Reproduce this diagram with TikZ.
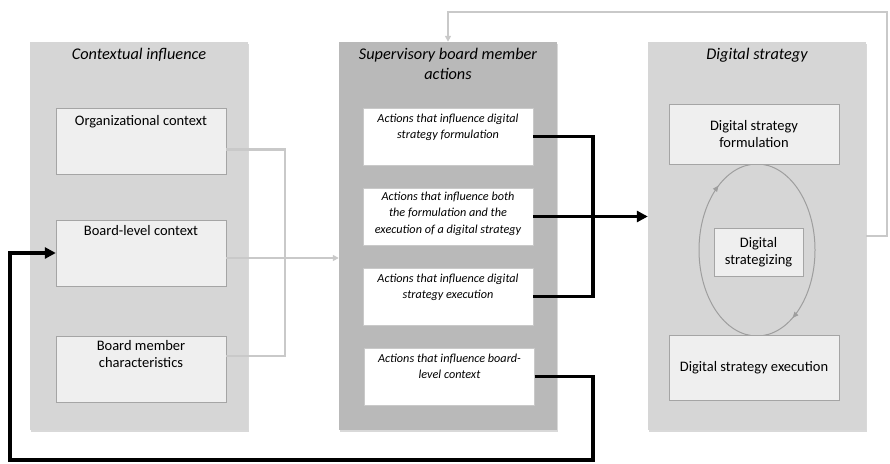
\documentclass[tikz,border=0pt]{standalone}
\usepackage{fontspec}
\setmainfont{Carlito}
\usetikzlibrary{positioning,arrows.meta,shadows,decorations.markings}

\definecolor{panelgray}{HTML}{D6D6D6}
\definecolor{actiongray}{HTML}{B9B9B9}
\definecolor{boxgray}{HTML}{EFEFEF}
\definecolor{edgegray}{HTML}{A5A5A5}
\definecolor{linegray}{HTML}{C9C9C9}
\definecolor{loopgray}{HTML}{9E9E9E}

\begin{document}
\begin{tikzpicture}[x=1pt, y=-1pt,
        panel/.style={rectangle, fill=panelgray, minimum width=218pt, minimum height=388pt, inner sep=0pt,
            drop shadow={shadow xshift=1pt, shadow yshift=-2pt, opacity=0.3}},
        title/.style={font=\fontsize{16.3}{20}\selectfont\itshape, align=center, inner sep=0pt},
        ctxbox/.style={rectangle, draw=edgegray, fill=boxgray, minimum width=170pt, minimum height=66pt, inner sep=0pt},
        actbox/.style={rectangle, draw=edgegray!60, fill=white, minimum width=170pt, minimum height=57pt, inner sep=0pt},
        boxtext/.style={font=\fontsize{14.5}{17}\selectfont, align=center, inner sep=0pt},
        acttext/.style={font=\fontsize{12.2}{16.5}\selectfont\itshape, align=center, inner sep=0pt},
        feed/.style={draw=linegray, line width=2.5pt},
        push/.style={draw=black, line width=3.5pt},
        bigtip/.style={-{Triangle[length=11pt,width=11pt]}},
        smalltip/.style={-{Triangle[length=6pt,width=6pt]}},
        cycle/.style={draw=loopgray, line width=1pt, postaction={decorate}}
    ]
        \useasboundingbox (0,0) rectangle (890,463);

        % Three panels
        \node[panel] (ctx) at (139,236) {};
        \node[panel, fill=actiongray] (sup) at (448,236) {};
        \node[panel] (digi) at (757,236) {};

        \node[title, below=6pt of ctx.north] (ctxtitle) {Contextual influence};
        \node[title, below=6pt of sup.north] (suptitle) {Supervisory board member\\actions};
        \node[title, below=6pt of digi.north] (digititle) {Digital strategy};

        % Strategizing cycle (behind the boxes)
        \draw[cycle, decoration={markings, mark=at position 0.8 with {\arrow{Triangle[length=6pt,width=5pt]}}}]
            (757,336) arc[start angle=270, end angle=90, x radius=58pt, y radius=86pt];
        \draw[cycle, decoration={markings, mark=at position 0.82 with {\arrow{Triangle[length=6pt,width=5pt]}}}]
            (757,164) arc[start angle=90, end angle=-90, x radius=58pt, y radius=86pt];

        % Contextual influence boxes
        \node[ctxbox] (org) at (141,141.5) {};
        \node[boxtext, below=7pt of org.north] (orgtext) {Organizational context};
        \node[ctxbox] (blc) at (141,253) {};
        \node[boxtext, below=5pt of blc.north] (blctext) {Board-level context};
        \node[ctxbox] (bchar) at (141,369) {};
        \node[boxtext, below=4pt of bchar.north] (bchartext) {Board member\\characteristics};

        % Supervisory board member actions
        \node[actbox] (act1) at (448,136.5) {};
        \node[acttext, below=6pt of act1.north] (act1text) {Actions that influence digital\\strategy formulation};
        \node[actbox] (act2) at (448,216.5) {};
        \node[acttext, below=4pt of act2.north] (act2text) {Actions that influence both\\the formulation and the\\execution of a digital strategy};
        \node[actbox] (act3) at (448,296.5) {};
        \node[acttext, below=6pt of act3.north] (act3text) {Actions that influence digital\\strategy execution};
        \node[actbox] (act4) at (449.5,376.5) {};
        \node[acttext, below=6pt of act4.north] (act4text) {Actions that influence board-\\level context};

        % Digital strategy boxes
        \node[ctxbox, minimum height=60pt, font=\fontsize{14.5}{17}\selectfont, align=center] (form) at (754,134) {Digital strategy\\formulation};
        \node[ctxbox, minimum width=89pt, minimum height=48pt, font=\fontsize{14.5}{17}\selectfont, align=center] (strat) at (758.5,252) {Digital\\strategizing};
        \node[ctxbox, minimum height=65pt, font=\fontsize{14.5}{17}\selectfont] (exec) at (754,367.5) {Digital strategy execution};

        % Context feeds into the board
        \coordinate (merge) at (285,258);
        \draw[feed] ([yshift=-8pt]org.east) -| (merge) |- ([yshift=13pt]bchar.east);
        \draw[feed, smalltip] ([yshift=-5pt]blc.east) -- (merge -| sup.west);

        % Board actions into digital strategy
        \coordinate (bend) at (593,216);
        \draw[push] (act1.east) -| (bend) |- (act3.east);
        \draw[push, bigtip] (act2.east) -- (act2.east -| digi.west);

        % Back to board-level context
        \coordinate (low) at (593,460);
        \coordinate (back) at (10,460);
        \draw[push, bigtip] (act4.east) -| (low) -- (back) |- (blc.west);

        % Feedback from digital strategy to the board
        \coordinate (loop) at (887,12);
        \draw[feed, smalltip] (digi.east) -| (loop) -| (sup.north);
    \end{tikzpicture}
\end{document}
